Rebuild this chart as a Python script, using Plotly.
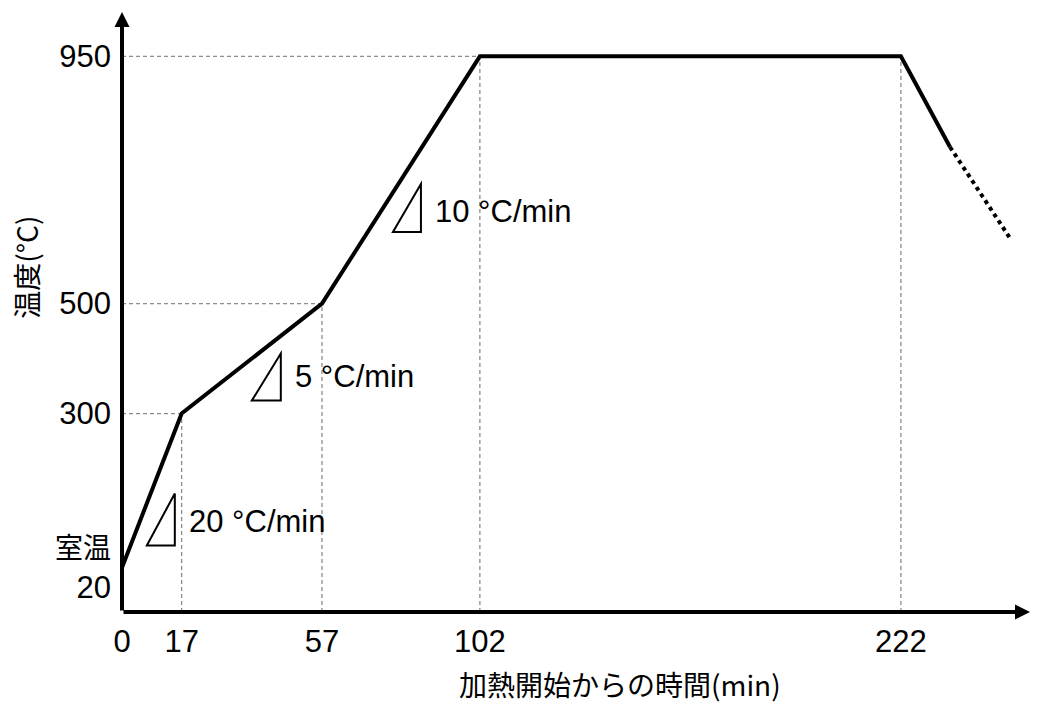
import plotly.graph_objects as go

# ---- data ----
time_min = [0, 17, 57, 102, 222, 236]
temp_c = [20, 300, 500, 950, 950, 785]
cool_time = [236, 253]
cool_temp = [785, 620]
rates = [20, 5, 10]
x_ticks = [0, 17, 57, 102, 222]
y_ticks = [20, 300, 500, 950]
room_temp_label = "室温"
x_title = "加熱開始からの時間(min)"
y_title = "温度(°C)"

X_RANGE = [0, 258.8]
Y_RANGE = [-61.1, 1030.6]

NUM_FONT = "Liberation Sans, Arial, Noto Sans CJK JP, sans-serif"
CJK_FONT = "Noto Sans CJK JP, sans-serif"
GUIDE = dict(color="#8c8c8c", width=1.3, dash="4px,3px")

y_ticktext = []
for v in y_ticks:
    if v == 20:
        y_ticktext.append(f"<span style='font-family:Noto Sans CJK JP;font-size:28px'>{room_temp_label}</span><br>{v}")
    else:
        y_ticktext.append(str(v))

fig = go.Figure()

# guide lines
for i in range(1, 5):
    t, T = time_min[i], temp_c[i]
    fig.add_trace(go.Scatter(x=[t, t], y=[Y_RANGE[0], T], mode="lines", line=GUIDE,
                             hoverinfo="skip", showlegend=False, cliponaxis=False))
for i in range(1, 4):
    t, T = time_min[i], temp_c[i]
    fig.add_trace(go.Scatter(x=[X_RANGE[0], t], y=[T, T], mode="lines", line=GUIDE,
                             hoverinfo="skip", showlegend=False, cliponaxis=False))

# main profile
fig.add_trace(go.Scatter(x=time_min, y=temp_c, mode="lines",
                         line=dict(color="black", width=4), showlegend=False, cliponaxis=False))
fig.add_trace(go.Scatter(x=cool_time, y=cool_temp, mode="lines",
                         line=dict(color="black", width=4, dash="dot"), showlegend=False, cliponaxis=False))

# slope triangles + labels (pixel offsets relative to each segment midpoint)
tri_style = [((-5, 55), (23, 3), (35, 31)),
             ((0, 42), (29, -5), (41, 18)),
             ((-8, 52), (20, 4), (32, 32))]
annotations = []
shapes = []
for k, rate in enumerate(rates):
    mx = (time_min[k] + time_min[k + 1]) / 2
    my = (temp_c[k] + temp_c[k + 1]) / 2
    (blx, bly), (trx, try_), (lx, ly) = tri_style[k]
    shapes.append(dict(type="path", xref="x", yref="y", xsizemode="pixel", ysizemode="pixel",
                       xanchor=mx, yanchor=my,
                       path=f"M {blx},{-bly} L {trx},{-bly} L {trx},{-try_} Z",
                       line=dict(color="black", width=2), fillcolor="white"))
    annotations.append(dict(x=mx, y=my, xref="x", yref="y",
                            text=f"{rate} °C/min",
                            showarrow=False, xanchor="left", yanchor="middle", xshift=lx, yshift=-ly,
                            font=dict(family=NUM_FONT, size=31, color="black")))

# axes with arrowheads
annotations.append(dict(x=X_RANGE[1], y=Y_RANGE[0], ax=X_RANGE[0], ay=Y_RANGE[0],
                        xref="x", yref="y", axref="x", ayref="y", text="", showarrow=True,
                        arrowhead=2, arrowsize=0.75, arrowwidth=4, arrowcolor="black"))
annotations.append(dict(x=X_RANGE[0], y=Y_RANGE[1], ax=X_RANGE[0], ay=Y_RANGE[0],
                        xref="x", yref="y", axref="x", ayref="y", text="", showarrow=True,
                        arrowhead=2, arrowsize=0.75, arrowwidth=4, arrowcolor="black"))

# axis titles
annotations.append(dict(x=0.548, y=-0.12, xref="paper", yref="paper", text=x_title,
                        showarrow=False, xanchor="center", yanchor="middle",
                        font=dict(family=CJK_FONT, size=28, color="black")))
annotations.append(dict(x=-0.106, y=0.575, xref="paper", yref="paper", text=y_title,
                        showarrow=False, textangle=-90, xanchor="center", yanchor="middle",
                        font=dict(family=CJK_FONT, size=28, color="black")))

fig.update_layout(
    width=1037, height=705,
    margin=dict(l=122, r=7, t=12, b=93),
    paper_bgcolor="white", plot_bgcolor="white",
    shapes=shapes, annotations=annotations,
    xaxis=dict(range=X_RANGE, showgrid=False, zeroline=False, showline=False,
               tickmode="array", tickvals=x_ticks, ticktext=[str(v) for v in x_ticks],
               ticks="", ticklabelstandoff=8,
               tickfont=dict(family=NUM_FONT, size=31, color="black")),
    yaxis=dict(range=Y_RANGE, showgrid=False, zeroline=False, showline=False,
               tickmode="array", tickvals=y_ticks, ticktext=y_ticktext,
               ticks="", ticklabelstandoff=10,
               tickfont=dict(family=NUM_FONT, size=31, color="black")),
)

fig.write_html("out.html")
